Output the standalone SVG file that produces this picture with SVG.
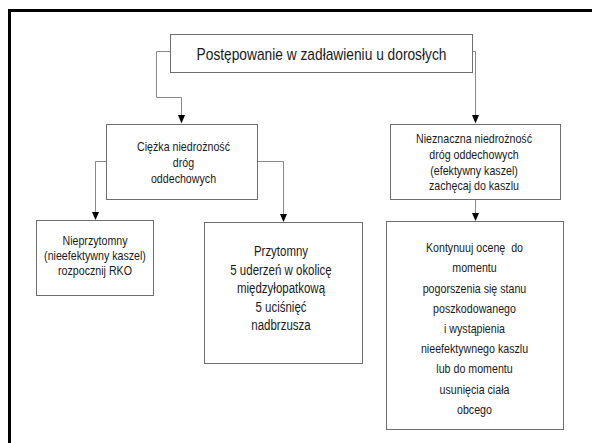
<svg xmlns="http://www.w3.org/2000/svg" width="592" height="443" viewBox="0 0 592 443">
<style>
.box{fill:#fff;stroke:#6e6e6e;stroke-width:1}
.ln{fill:none;stroke:#8a8a8a;stroke-width:1}
text{font-family:"Liberation Sans",Arial,sans-serif;fill:#1a1a1a;text-anchor:middle}
.t{font-size:16px}
.s{font-size:13px}
.m{font-size:14px}
</style>
<defs>
<marker id="ah" markerWidth="7" markerHeight="8" refX="3.5" refY="8" orient="auto-start-reverse" markerUnits="userSpaceOnUse" viewBox="0 0 7 8">
<path d="M0,0 L7,0 L3.5,8 Z" fill="#000"/>
</marker>
</defs>
<rect x="0" y="0" width="592" height="443" fill="#fff"/>
<rect x="9.5" y="10.5" width="640" height="500" fill="none" stroke="#000" stroke-width="3"/>

<g id="connectors">
<path class="ln" d="M170.5,51.5 H156.5 V97.5 H181.5 V115"/>
<path d="M178,115 L185,115 L181.5,123.5 Z" fill="#000"/>
<path class="ln" d="M472.5,51.5 H475.5 V115"/>
<path d="M472,115 L479,115 L475.5,123.5 Z" fill="#000"/>
<path class="ln" d="M106.5,161.5 H95.5 V212"/>
<path d="M92,212 L99,212 L95.5,220 Z" fill="#000"/>
<path class="ln" d="M257.5,161.5 H283.5 V214"/>
<path d="M280,214 L287,214 L283.5,222 Z" fill="#000"/>
<path class="ln" d="M475.5,199.5 V213"/>
<path d="M472,213 L479,213 L475.5,221 Z" fill="#000"/>
</g>

<g id="root">
<rect class="box" x="170.5" y="34.5" width="302" height="38"/>
<text class="t" transform="translate(321.5,60) scale(0.86,1)">Postępowanie w zadławieniu u dorosłych</text>
</g>

<g id="severe">
<rect class="box" x="106.5" y="124.5" width="151" height="75"/>
<text class="s" transform="translate(183.5,151) scale(0.82,1)">Ciężka niedrożność</text>
<text class="s" transform="translate(183.5,167) scale(0.82,1)">dróg</text>
<text class="s" transform="translate(183.5,183) scale(0.82,1)">oddechowych</text>
</g>

<g id="mild">
<rect class="box" x="390.5" y="124.5" width="170" height="75"/>
<text class="s" transform="translate(474,143) scale(0.82,1)">Nieznaczna niedrożność</text>
<text class="s" transform="translate(474,159) scale(0.82,1)">dróg oddechowych</text>
<text class="s" transform="translate(474,174.5) scale(0.82,1)">(efektywny kaszel)</text>
<text class="s" transform="translate(474,190) scale(0.82,1)">zachęcaj do kaszlu</text>
</g>

<g id="unconscious">
<rect class="box" x="36.5" y="220.5" width="117" height="75"/>
<text class="s" transform="translate(95,245) scale(0.82,1)">Nieprzytomny</text>
<text class="s" transform="translate(95,260) scale(0.82,1)">(nieefektywny kaszel)</text>
<text class="s" transform="translate(95,275) scale(0.82,1)">rozpocznij RKO</text>
</g>

<g id="conscious">
<rect class="box" x="204.5" y="222.5" width="158" height="141"/>
<text class="m" transform="translate(281,256) scale(0.82,1)">Przytomny</text>
<text class="m" transform="translate(281,274.5) scale(0.82,1)">5 uderzeń w okolicę</text>
<text class="m" transform="translate(281,293) scale(0.82,1)">międzyłopatkową</text>
<text class="m" transform="translate(281,311.5) scale(0.82,1)">5 uciśnięć</text>
<text class="m" transform="translate(281,330) scale(0.82,1)">nadbrzusza</text>
</g>

<g id="continue">
<rect class="box" x="386.5" y="221.5" width="177" height="208"/>
<text class="s" xml:space="preserve" transform="translate(474.5,252) scale(0.82,1)">Kontynuuj ocenę  do</text>
<text class="s" transform="translate(474.5,272) scale(0.82,1)">momentu</text>
<text class="s" transform="translate(474.5,292.5) scale(0.82,1)">pogorszenia się stanu</text>
<text class="s" transform="translate(474.5,312.5) scale(0.82,1)">poszkodowanego</text>
<text class="s" transform="translate(474.5,333) scale(0.82,1)">i wystąpienia</text>
<text class="s" transform="translate(474.5,353) scale(0.82,1)">nieefektywnego kaszlu</text>
<text class="s" transform="translate(474.5,373) scale(0.82,1)">lub do momentu</text>
<text class="s" transform="translate(474.5,393.5) scale(0.82,1)">usunięcia ciała</text>
<text class="s" transform="translate(474.5,414) scale(0.82,1)">obcego</text>
</g>
</svg>
